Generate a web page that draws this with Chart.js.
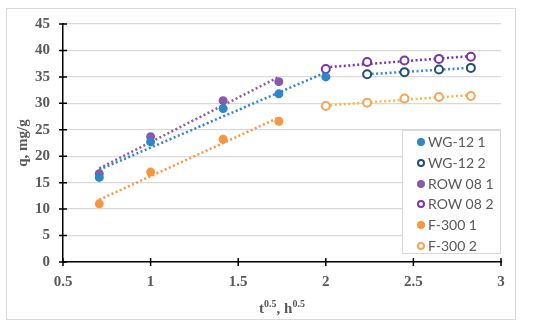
<!DOCTYPE html>
<html>
<head>
<meta charset="utf-8">
<script src="https://cdn.jsdelivr.net/npm/chart.js@4"></script>
<style>
  html, body { margin: 0; padding: 0; background: #fff; }
  #wrap { position: relative; width: 550px; height: 328px; }
  #frame { position: absolute; left: 6px; top: 8px; width: 508px; height: 310px; border: 1px solid #d9d9d9; }
  #chart { position: absolute; left: 0; top: 0; }
  #legend {
    position: absolute; left: 402px; top: 130px; width: 99px; height: 124px;
    background: #fff; border: 1px solid #d9d9d9; box-sizing: border-box;
    font-family: Lato, "Liberation Sans", sans-serif; font-size: 14px; color: #595959;
  }
  .item { position: absolute; left: 0; height: 20px; line-height: 20px; white-space: nowrap; }
  .dot { position: absolute; left: 14px; top: 6px; width: 8px; height: 8px; border-radius: 50%; box-sizing: border-box; }
  .lbl { position: absolute; left: 25px; top: 0; }
</style>
</head>
<body>
<div id="wrap">
  <div id="frame"></div>
  <canvas id="chart" width="550" height="328"></canvas>
  <div id="legend"></div>
</div>
<script>
// x values: sqrt of time in hours
const xStage1 = [0.707, 1, 1.414, 1.732];
const xStage1Wg = [0.707, 1, 1.414, 1.732, 2];
const xStage2 = [2, 2.236, 2.449, 2.646, 2.828];
const xStage2Wg = [2.236, 2.449, 2.646, 2.828];

// q, mg/g
const wg12Stage1 = [16.0, 22.7, 29.0, 31.8, 35.0];
const wg12Stage2 = [35.5, 35.9, 36.4, 36.7];
const row08Stage1 = [16.7, 23.7, 30.5, 34.1];
const row08Stage2 = [36.5, 37.8, 38.1, 38.4, 38.8];
const f300Stage1 = [11.0, 17.0, 23.2, 26.6];
const f300Stage2 = [29.5, 30.1, 30.9, 31.2, 31.4];

const xTickLabels = ['0.5', '1', '1.5', '2', '2.5', '3'];
const yTickLabels = ['0', '5', '10', '15', '20', '25', '30', '35', '40', '45'];

const series = [
  { label: 'WG-12 1', xs: xStage1Wg, ys: wg12Stage1, color: '#2e86c6', filled: true, trend: '#2e86c6' },
  { label: 'WG-12 2', xs: xStage2Wg, ys: wg12Stage2, color: '#1f4e79', filled: false, trend: '#3b8ac4' },
  { label: 'ROW 08 1', xs: xStage1, ys: row08Stage1, color: '#8a5aa8', filled: true, trend: '#8a5aa8' },
  { label: 'ROW 08 2', xs: xStage2, ys: row08Stage2, color: '#7a35a8', filled: false, trend: '#7a35a8' },
  { label: 'F-300 1', xs: xStage1, ys: f300Stage1, color: '#f7963f', filled: true, trend: '#f7963f' },
  { label: 'F-300 2', xs: xStage2, ys: f300Stage2, color: '#f5a45a', filled: false, trend: '#f7b934' }
];

function pts(xs, ys) {
  return xs.map((x, i) => ({ x: x, y: ys[i] }));
}

// least-squares trendline over the first and last x of a series
function trendline(xs, ys) {
  const n = xs.length;
  const mx = xs.reduce((a, b) => a + b, 0) / n;
  const my = ys.reduce((a, b) => a + b, 0) / n;
  let sxy = 0, sxx = 0;
  for (let i = 0; i < n; i++) {
    sxy += (xs[i] - mx) * (ys[i] - my);
    sxx += (xs[i] - mx) * (xs[i] - mx);
  }
  const k = sxy / sxx;
  const x0 = xs[0], x1 = xs[n - 1];
  return [{ x: x0, y: my + k * (x0 - mx) }, { x: x1, y: my + k * (x1 - mx) }];
}

const datasets = [];
series.forEach((s) => {
  datasets.push({
    label: s.label,
    data: pts(s.xs, s.ys),
    showLine: false,
    pointRadius: s.filled ? 4.5 : 4,
    pointBorderWidth: s.filled ? 0 : 2,
    pointBackgroundColor: s.filled ? s.color : '#fff',
    pointBorderColor: s.color,
    order: 0
  });
  datasets.push({
    label: s.label + ' trend',
    data: trendline(s.xs, s.ys),
    showLine: true,
    pointRadius: 0,
    borderColor: s.trend,
    borderWidth: 2.5,
    borderDash: [2, 2.5],
    order: 1
  });
});

const serif = '"Liberation Serif", "Times New Roman", serif';
const gray = '#595959';

const axisDecor = {
  id: 'axisDecor',
  afterDatasetsDraw(chart) {
    const ctx = chart.ctx;
    const xs = chart.scales.x, ys = chart.scales.y;
    const area = chart.chartArea;
    ctx.save();
    ctx.strokeStyle = '#000';
    ctx.lineWidth = 1.5;
    ctx.beginPath();
    ys.ticks.forEach((t) => {
      const py = ys.getPixelForValue(t.value);
      ctx.moveTo(area.left - 4, py);
      ctx.lineTo(area.left + 4, py);
    });
    xs.ticks.forEach((t) => {
      const px = xs.getPixelForValue(t.value);
      ctx.moveTo(px, area.bottom - 4);
      ctx.lineTo(px, area.bottom + 4);
    });
    ctx.stroke();

    // axis titles
    ctx.fillStyle = gray;
    ctx.textBaseline = 'alphabetic';
    const big = 'bold 15px ' + serif;
    const small = 'bold 10px ' + serif;
    const parts = [['t', big, 0], ['0.5', small, -6], [', h', big, 0], ['0.5', small, -6]];
    let w = 0;
    parts.forEach((p) => { ctx.font = p[1]; w += ctx.measureText(p[0]).width; });
    let x = (area.left + area.right) / 2 - w / 2;
    parts.forEach((p) => {
      ctx.font = p[1];
      ctx.fillText(p[0], x, 313 + p[2]);
      x += ctx.measureText(p[0]).width;
    });

    ctx.translate(27, 143);
    ctx.rotate(-Math.PI / 2);
    ctx.font = big;
    ctx.textAlign = 'center';
    ctx.fillText('q, mg/g', 0, 0);
    ctx.restore();
  }
};

new Chart(document.getElementById('chart'), {
  type: 'scatter',
  data: { datasets: datasets },
  options: {
    responsive: false,
    animation: false,
    layout: { padding: { left: 0, top: 24, right: 49, bottom: 0 } },
    plugins: { legend: { display: false }, tooltip: { enabled: false } },
    scales: {
      x: {
        type: 'linear', min: 0.5, max: 3,
        afterFit(s) { s.height = 66; },
        grid: { display: false, drawTicks: false },
        border: { display: true, color: '#000', width: 1.5 },
        ticks: {
          stepSize: 0.5, padding: 11, color: gray,
          font: { family: serif, size: 15, weight: 'bold' },
          callback: (v, i) => xTickLabels[i]
        }
      },
      y: {
        type: 'linear', min: 0, max: 45,
        afterFit(s) { s.width = 63; },
        grid: { color: '#d9d9d9', lineWidth: 1.3, drawTicks: false },
        border: { display: true, color: '#000', width: 1.5 },
        ticks: {
          stepSize: 5, padding: 13, color: gray,
          font: { family: serif, size: 15, weight: 'bold' },
          callback: (v, i) => yTickLabels[i]
        }
      }
    }
  },
  plugins: [axisDecor]
});

// legend
const legend = document.getElementById('legend');
series.forEach((s, i) => {
  const item = document.createElement('div');
  item.className = 'item';
  item.style.top = (1 + i * 20.8) + 'px';
  const dot = document.createElement('span');
  dot.className = 'dot';
  if (s.filled) {
    dot.style.background = s.color;
  } else {
    dot.style.border = '2px solid ' + s.color;
    dot.style.background = '#fff';
  }
  const lbl = document.createElement('span');
  lbl.className = 'lbl';
  lbl.textContent = s.label;
  item.appendChild(dot);
  item.appendChild(lbl);
  legend.appendChild(item);
});
</script>
</body>
</html>
